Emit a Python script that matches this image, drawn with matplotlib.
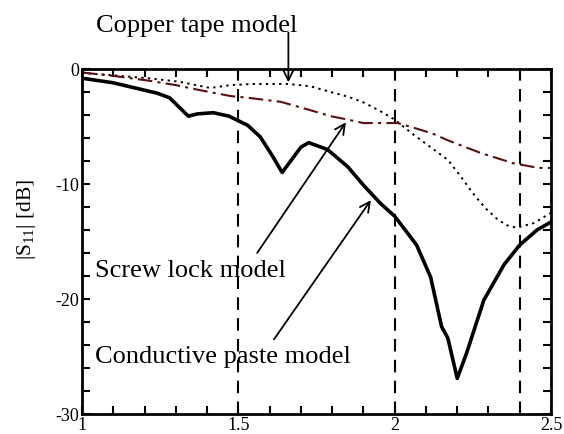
import matplotlib
matplotlib.use("Agg")
import matplotlib.pyplot as plt
import numpy as np
from matplotlib.ticker import MultipleLocator, FuncFormatter

plt.rcParams['font.family'] = ['Liberation Serif', 'DejaVu Serif']
plt.rcParams['mathtext.fontset'] = 'custom'
plt.rcParams['mathtext.rm'] = 'Liberation Serif'
plt.rcParams['mathtext.it'] = 'Liberation Serif:italic'

# Conductive paste model (solid)
paste_x = [1.00, 1.10, 1.24, 1.28, 1.31, 1.34, 1.37, 1.42, 1.47, 1.53, 1.57, 1.61, 1.64, 1.67,
           1.70, 1.725, 1.785, 1.85, 1.90, 1.955, 2.00, 2.07, 2.115, 2.15, 2.17, 2.20, 2.23,
           2.285, 2.35, 2.40, 2.455, 2.50]
paste_y = [-0.8, -1.2, -2.1, -2.5, -3.3, -4.1, -3.9, -3.8, -4.1, -4.9, -5.9, -7.6, -9.0, -7.9,
           -6.8, -6.4, -7.0, -8.5, -10.1, -11.7, -12.8, -15.3, -18.1, -22.4, -23.4, -26.9, -24.7,
           -20.1, -17.0, -15.3, -14.0, -13.3]

# Copper tape model (dotted)
copper_x = [1.00, 1.10, 1.21, 1.31, 1.41, 1.475, 1.55, 1.66, 1.73, 1.795, 1.85, 1.90, 1.95, 2.00,
            2.06, 2.11, 2.17, 2.21, 2.25, 2.29, 2.33, 2.36, 2.39, 2.445, 2.50]
copper_y = [-0.35, -0.55, -0.8, -1.1, -1.65, -1.4, -1.3, -1.3, -1.5, -2.0, -2.4, -2.9, -3.6, -4.4,
            -5.7, -6.7, -7.9, -9.3, -10.8, -12.1, -13.1, -13.6, -13.8, -13.4, -12.5]

# Screw lock model (dash-dot)
screw_x = [1.00, 1.10, 1.21, 1.30, 1.37, 1.475, 1.53, 1.635, 1.72, 1.795, 1.85, 1.90, 1.95, 2.01,
           2.06, 2.12, 2.17, 2.275, 2.38, 2.46, 2.50]
screw_y = [-0.3, -0.6, -1.0, -1.4, -1.8, -2.35, -2.5, -2.85, -3.5, -4.1, -4.4, -4.7, -4.7, -4.7,
           -5.1, -5.6, -6.2, -7.3, -8.2, -8.6, -8.6]

vlines_x = [1.5, 2.0, 2.4]
xticks = [1, 1.5, 2, 2.5]
yticks = [0, -10, -20, -30]

fig = plt.figure(figsize=(5.64, 4.34), dpi=100)
ax = fig.add_axes([0.1454, 0.046, 0.977 - 0.1454, 0.841 - 0.046])

ax.plot(paste_x, paste_y, color='black', lw=2.6, solid_joinstyle='round')
ax.plot(copper_x, copper_y, color='black', lw=1.4, linestyle=(0, (1.2, 2.2)))
ax.plot(screw_x, screw_y, color='#5a1010', lw=1.5, linestyle=(0, (7, 2.5, 1.5, 2.5)))
for vx in vlines_x:
    ax.axvline(vx, color='black', lw=1.5, linestyle=(0, (6, 4)))

ax.set_xlim(1, 2.5)
ax.set_ylim(-30, 0)
ax.set_xticks(xticks)
ax.set_yticks(yticks)
ax.xaxis.set_minor_locator(MultipleLocator(0.1))
ax.yaxis.set_minor_locator(MultipleLocator(2))
fmt = FuncFormatter(lambda v, p: ('%g' % v).replace('\u2212', '-'))
ax.xaxis.set_major_formatter(fmt)
ax.yaxis.set_major_formatter(fmt)
ax.tick_params(which='both', direction='in', top=True, right=True, length=6, width=1.5,
               labelsize=13, pad=2)
for s in ax.spines.values():
    s.set_linewidth(2)
ax.set_ylabel('|S$_{11}$| [dB]', fontsize=15.5)
ax.yaxis.set_label_coords(-0.094, 0.565)

arrowprops = dict(arrowstyle='->', color='black', lw=1.3, mutation_scale=18)
ax.annotate('', xy=(1.66, -1.4), xytext=(1.66, 3.4), arrowprops=arrowprops, annotation_clip=False)
fig.text(0.349, 0.94, 'Copper tape model', fontsize=19, ha='center', va='center')

ax.annotate('', xy=(1.849, -4.43), xytext=(1.555, -16.2), arrowprops=arrowprops)
ax.text(1.04, -17.6, 'Screw lock model', fontsize=19, ha='left', va='center')

ax.annotate('', xy=(1.929, -11.2), xytext=(1.609, -23.7), arrowprops=arrowprops)
ax.text(1.04, -25.0, 'Conductive paste model', fontsize=19, ha='left', va='center')

fig.savefig('out.png', dpi=100)
